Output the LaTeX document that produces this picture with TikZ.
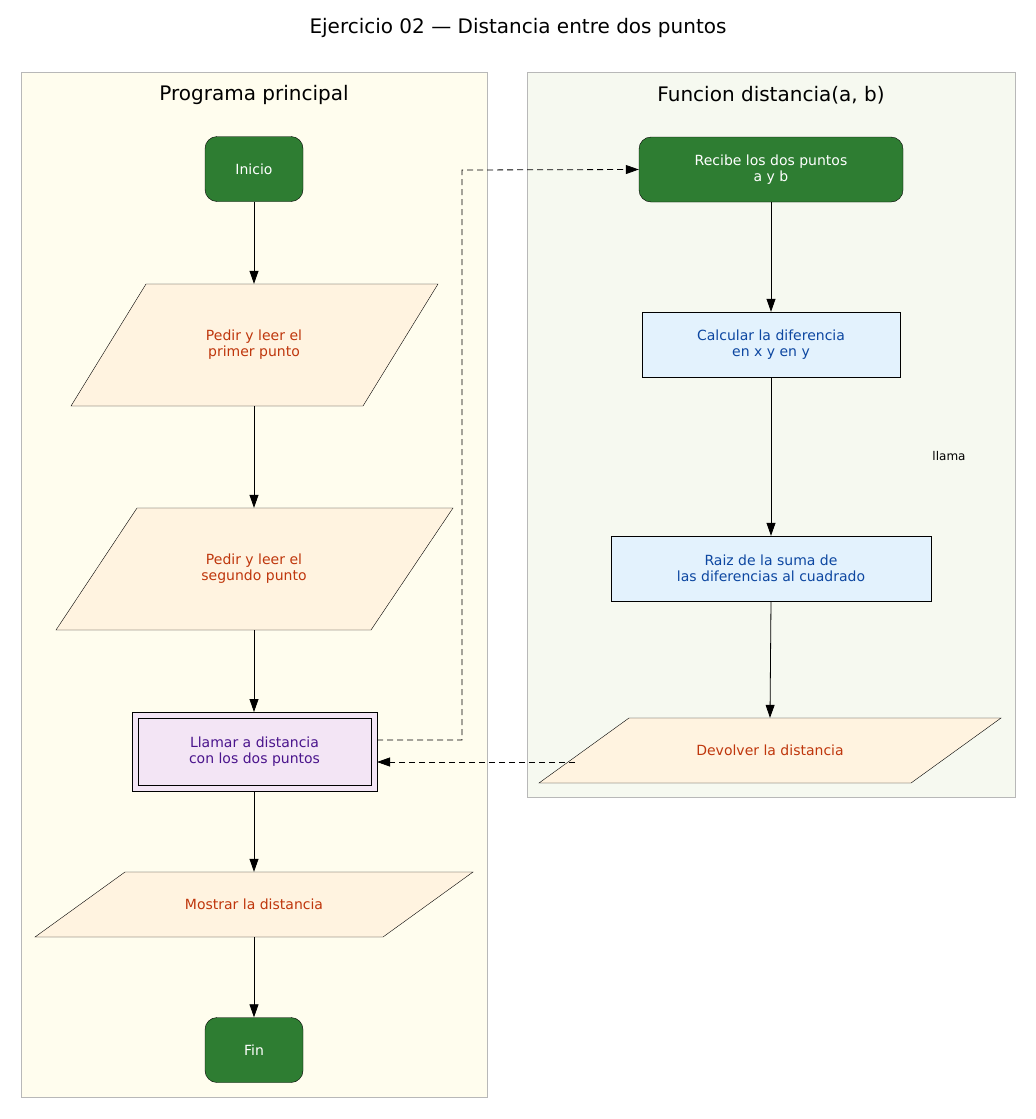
\documentclass[tikz,border=0pt]{standalone}
\usepackage{fontspec}
\setmainfont{DejaVu Sans}
\usetikzlibrary{arrows.meta}
\definecolor{gfill}{HTML}{2E7D32}
\definecolor{iotext}{HTML}{BF360C}
\definecolor{iofill}{HTML}{FFF3E0}
\definecolor{prtext}{HTML}{0D47A1}
\definecolor{prfill}{HTML}{E3F2FD}
\definecolor{sbtext}{HTML}{4A148C}
\definecolor{sbfill}{HTML}{F3E5F5}
\definecolor{lclus}{HTML}{FFFDEE}
\definecolor{rclus}{HTML}{F6F9F0}
\definecolor{cline}{HTML}{B8B8B8}
\tikzset{
 x=1pt,y=-1pt,
 term/.style={draw=black,fill=gfill,text=white,rounded corners=12pt,minimum width=98pt,minimum height=65pt,font=\fontsize{14}{16}\selectfont,align=center},
 proc/.style={draw=black,fill=prfill,text=prtext,minimum height=65pt,font=\fontsize{14}{16}\selectfont,align=center},
 iolab/.style={text=iotext,font=\fontsize{14}{16}\selectfont,align=center},
 para/.style={draw=black,fill=iofill},
 arr/.style={-{Triangle[length=13pt,width=9pt]},line width=0.8pt},
 darr/.style={arr,dashed,dash pattern=on 6pt off 4pt},
 ctitle/.style={font=\fontsize{20}{24}\selectfont}
}
\begin{document}
\begin{tikzpicture}
\useasboundingbox (0,0) rectangle (1036,1119);
\fill[white] (0,0) rectangle (1036,1119);
\node[ctitle] (title) at (518,28) {Ejercicio 02 — Distancia entre dos puntos};
\draw[cline,fill=lclus] (21,72) rectangle (487,1097);
\draw[cline,fill=rclus] (527,72) rectangle (1015,797);
\node[ctitle] (lt) at (254,95) {Programa principal};
\node[ctitle] (rt) at (771,95) {Funcion distancia(a, b)};
% left
\node[term] (inicio) at (254,169) {Inicio};
\draw[para] (146,284)--(438,284)--(363,406)--(71,406)--cycle;
\node[iolab,minimum height=122pt] (p1) at (254,345) {Pedir y leer el\\primer punto};
\draw[para] (137,508)--(453,508)--(371,630)--(56,630)--cycle;
\node[iolab,minimum height=122pt] (p2) at (254,569) {Pedir y leer el\\segundo punto};
\draw[fill=sbfill] (132,712) rectangle (377,791);
\node[draw=black,fill=sbfill,text=sbtext,minimum width=233pt,minimum height=67pt,font=\fontsize{14}{16}\selectfont,align=center] (ll) at (254.5,751.5) {Llamar a distancia\\con los dos puntos};
\coordinate (llr1) at (377,740);
\coordinate (llr2) at (377,762);
\coordinate (lls) at (254,791);
\coordinate (lln) at (254,712);
\draw[para] (125,872)--(473,872)--(383,937)--(35,937)--cycle;
\node[iolab,minimum height=65pt] (most) at (254,904.5) {Mostrar la distancia};
\node[term] (fin) at (254,1050) {Fin};
% right
\node[term,minimum width=264pt] (rec) at (771,169.5) {Recibe los dos puntos\\a y b};
\node[proc,minimum width=258pt] (calc) at (771,344.5) {Calcular la diferencia\\en x y en y};
\node[proc,minimum width=320pt] (raiz) at (771,568.5) {Raiz de la suma de\\las diferencias al cuadrado};
\draw[para] (629,718)--(1001,718)--(911,783)--(539,783)--cycle;
\node[iolab,minimum height=65pt] (dev) at (770,750.5) {Devolver la distancia};
\node[font=\fontsize{12}{14}\selectfont] (llama) at (949,456) {llama};
% edges
\draw[arr] (inicio.south) -- (p1.north);
\draw[arr] (p1.south) -- (p2.north);
\draw[arr] (p2.south) -- (lln);
\draw[arr] (lls) -- (most.north);
\draw[arr] (most.south) -- (fin.north);
\draw[arr] (rec.south) -- (calc.north);
\draw[arr] (calc.south) -- (raiz.north);
\draw[arr] (raiz.south) -- (dev.north);
\draw[darr] (llr1) -- (462,740) -- (462,170) -- (rec.west);
\coordinate (devl) at (575,762);
\draw[darr] (devl) -- (llr2);
\end{tikzpicture}
\end{document}
